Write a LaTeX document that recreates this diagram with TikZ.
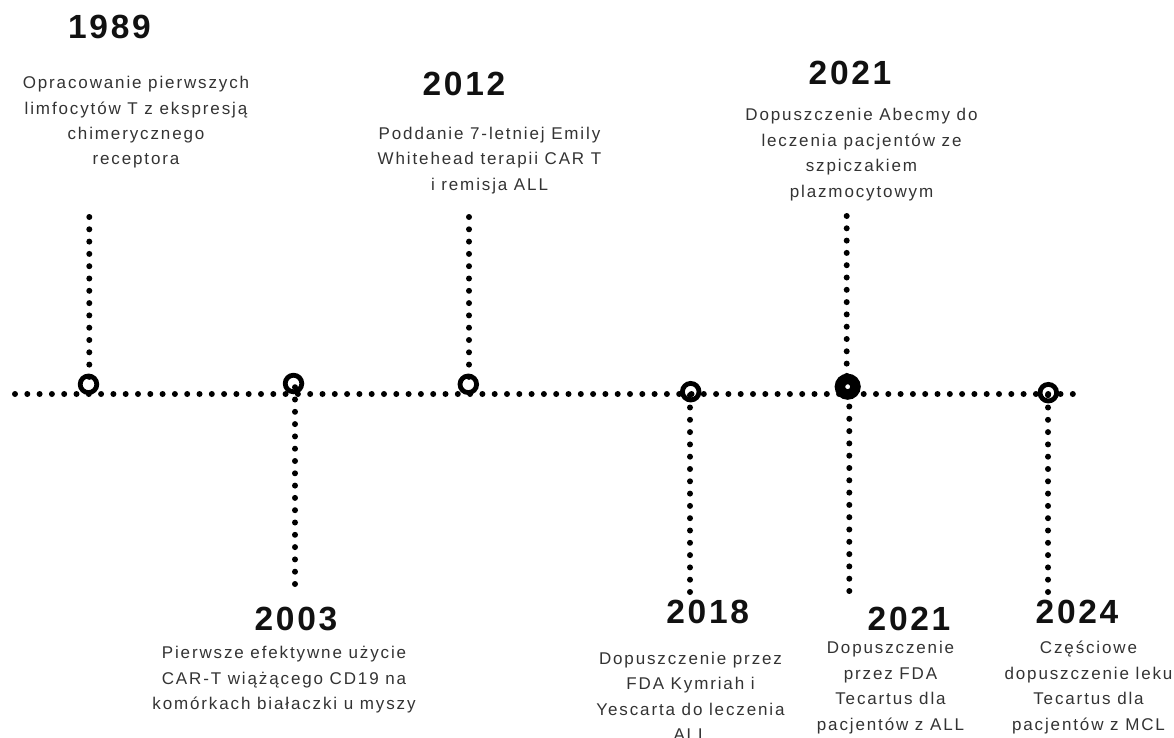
\documentclass[tikz,border=0pt]{standalone}
\usepackage{fontspec}
\usetikzlibrary{decorations.markings}
\setmainfont{Liberation Sans}
\newfontfamily\descfont[LetterSpace=11]{Liberation Sans}
\newfontfamily\yearfont[LetterSpace=8]{Liberation Sans}
\definecolor{desccol}{HTML}{333333}
\definecolor{yearcol}{HTML}{111111}
\pgfdeclarelayer{bg}
\pgfsetlayers{bg,main}
\tikzset{
  dotline/.style={decoration={markings, mark=between positions 0 and 1 step 12.3pt with {\fill[black] (0,0) circle (3pt);}}, postaction={decorate}},
  ring/.style={circle, draw, line width=4.8pt, minimum size=16.6pt, inner sep=0pt, outer sep=0pt},
  bigring/.style={circle, draw, line width=10.5pt, minimum size=15.5pt, inner sep=0pt, outer sep=0pt},
  year/.style={anchor=base, inner sep=0pt, text=yearcol, font=\yearfont\bfseries\fontsize{33.5}{40}\selectfont},
  desc/.style={anchor=north, inner sep=0pt, align=center, text=desccol, font=\descfont\fontsize{17}{25.5}\selectfont},
}
\newcommand{\fl}{\rule{0pt}{16pt}}
\begin{document}
\begin{tikzpicture}[x=1pt,y=-1pt]
\useasboundingbox (0,0) rectangle (1174,738);

% event markers
\node[ring] (c1989) at (88.5,384.3) {};
\node[ring] (c2003) at (293.5,383.5) {};
\node[ring] (c2012) at (468.3,384.3) {};
\node[ring] (c2018) at (690.7,391.7) {};
\node[bigring] (c2021) at (847.7,386.7) {};
\node[ring] (c2024) at (1048.3,392.7) {};

% stem and timeline end points
\coordinate (lstart) at (15,394);
\coordinate (lend) at (1073,394);
\coordinate (t1989) at (89.3,217);
\coordinate (t2012) at (469,217);
\coordinate (t2021) at (846.7,216);
\coordinate (b2003) at (295,584);
\coordinate (b2018) at (690,592);
\coordinate (b2021) at (849.3,591);
\coordinate (b2024) at (1048,592);

\begin{pgfonlayer}{bg}
\fill[white] (0,0) rectangle (1174,738);
\path[dotline] (lstart) -- (lend);
\path[dotline] (t1989) -- (t1989 |- c1989);
\path[dotline] (t2012) -- (t2012 |- c2012);
\path[dotline] (t2021) -- (t2021 |- c2021);
\path[dotline] (b2003) -- (b2003 |- c2003);
\path[dotline] (b2018) -- (b2018 |- c2018);
\path[dotline] (b2021) -- (b2021 |- c2021);
\path[dotline] (b2024) -- (b2024 |- c2024);
\end{pgfonlayer}

% years
\node[year] (y1989) at (109.5,39) {1989};
\node[year] (y2012) at (464,95.7) {2012};
\node[year] (y2021a) at (850,85) {2021};
\node[year] (y2003) at (296,630.7) {2003};
\node[year] (y2018) at (707.7,623.3) {2018};
\node[year] (y2021b) at (909,630.7) {2021};
\node[year] (y2024) at (1077,623.3) {2024};

% descriptions
\node[desc] (d1989) at (136,72.3) {\fl Opracowanie pierwszych\\limfocytów T z ekspresją\\chimerycznego\\receptora};
\node[desc] (d2012) at (489.5,123.3) {\fl Poddanie 7-letniej Emily\\Whitehead terapii CAR T\\i remisja ALL};
\node[desc] (d2021a) at (861.5,104.7) {\fl Dopuszczenie Abecmy do\\leczenia pacjentów ze\\szpiczakiem\\plazmocytowym};
\node[desc] (d2003) at (284,642.3) {\fl Pierwsze efektywne użycie\\CAR-T wiążącego CD19 na\\komórkach białaczki u myszy};
\node[desc] (d2018) at (690.5,648) {\fl Dopuszczenie przez\\FDA Kymriah i\\Yescarta do leczenia\\ALL};
\node[desc] (d2021b) at (890.5,637.3) {\fl Dopuszczenie\\przez FDA\\Tecartus dla\\pacjentów z ALL};
\node[desc] (d2024) at (1088.5,637.3) {\fl Częściowe\\dopuszczenie leku\\Tecartus dla\\pacjentów z MCL};
\end{tikzpicture}
\end{document}
